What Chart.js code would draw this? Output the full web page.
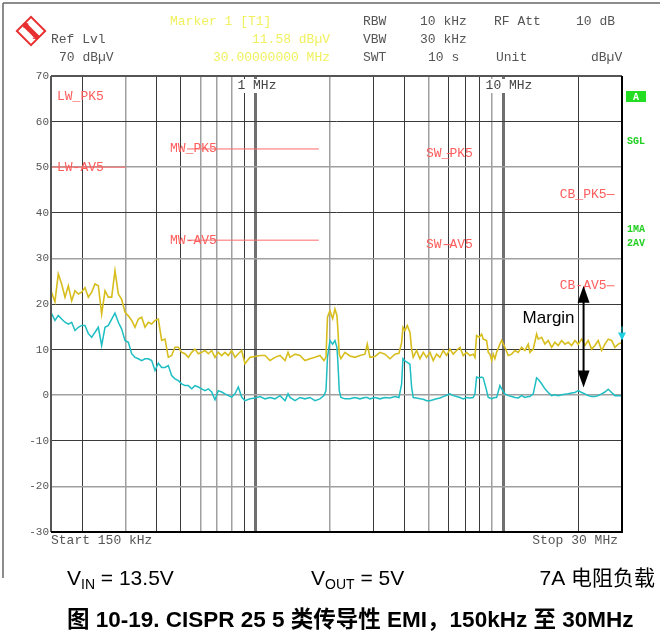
<!DOCTYPE html>
<html>
<head>
<meta charset="utf-8">
<script src="https://cdn.jsdelivr.net/npm/chart.js@4.4.1/dist/chart.umd.min.js"></script>
<style>
html, body { margin: 0; padding: 0; background: #fff; }
canvas { display: block; }
</style>
</head>
<body>
<canvas id="chart" width="660" height="640"></canvas>
<script>
// sweep frequencies, kHz
const freqKHz = [
    150, 155.6, 160.5, 165.6, 170.8, 176.2, 181.7, 187.4, 193.3, 199.4,
    205.6, 212.1, 218.8, 225.6, 232.7, 240.0, 247.6, 255.4, 263.4, 271.6,
    280.2, 289.0, 298.0, 307.4, 317.1, 327.0, 337.3, 347.9, 358.8, 370.1,
    381.7, 393.7, 406.1, 418.8, 432.0, 445.5, 459.5, 474.0, 488.9, 504.2,
    520.0, 536.4, 553.2, 570.6, 588.5, 607.0, 626.1, 645.7, 666.0, 686.9,
    708.5, 730.8, 753.7, 777.4, 801.8, 827.0, 853.0, 879.8, 907.4,
    951, 996, 1044, 1093, 1145, 1199, 1256, 1316, 1353, 1378,
    1444, 1511, 1583, 1658, 1737, 1819, 1888, 1924, 1951, 1996,
    2047, 2091, 2130, 2150, 2176, 2210, 2294, 2403, 2517, 2637,
    2762, 2822, 2893, 3031, 3175, 3325, 3483, 3649, 3787, 3881,
    3930, 4003, 4090, 4193, 4260, 4323, 4461, 4601, 4744, 4895,
    5048, 5205, 5371, 5539, 5711, 5893, 6078, 6267, 6465, 6669,
    6876, 7094, 7317, 7545, 7664, 7784, 7973, 8156, 8278, 8541,
    8672, 8809, 8949, 9083, 9227, 9371, 9665, 9819, 10124, 10439,
    10774, 11108, 11453, 11821, 12188, 12567, 12767, 13164, 13582, 13789,
    14231, 14673, 15129, 15614, 16100, 16601, 17132, 17665, 18214, 18798,
    19383, 19986, 20626, 21267, 21928, 22631, 23335, 24061, 24832, 25604,
    26400, 27246, 28094, 28968, 30000
];

// trace 1 : max peak (yellow)
const peakDbuv = [
    22.9, 20.5, 26.6, 24.4, 21.5, 24.0, 20.7, 22.9, 22.2, 22.6,
    23.6, 21.5, 22.6, 24.4, 24.0, 17.8, 22.9, 21.5, 21.5, 27.3,
    22.2, 21.0, 18.2, 17.4, 16.4, 14.9, 16.7, 17.1, 14.9, 16.0,
    15.6, 16.4, 16.7, 12.0, 12.3, 8.3, 8.7, 10.5, 10.5, 9.4,
    9.1, 8.3, 9.4, 10.1, 9.1, 9.4, 9.8, 9.1, 9.8, 8.3,
    9.4, 8.7, 9.4, 8.7, 9.8, 8.3, 9.1, 9.8, 6.9,
    8.3, 8.5, 8.7, 8.7, 7.6, 8.3, 8.7, 7.6, 9.4, 8.3,
    9.0, 8.7, 7.6, 8.0, 8.3, 8.7, 7.6, 8.3, 17.1, 18.5,
    16.8, 18.9, 17.5, 14.2, 9.0, 8.0, 9.4, 8.6, 8.3, 8.7,
    9.0, 11.2, 8.3, 8.5, 9.4, 9.0, 8.0, 9.0, 9.2, 11.5,
    14.9, 14.2, 15.3, 13.8, 10.1, 8.3, 9.8, 8.0, 9.4, 8.3,
    9.4, 7.6, 9.0, 8.3, 9.8, 8.7, 10.1, 9.0, 9.8, 10.5,
    8.7, 9.4, 8.7, 9.0, 8.3, 13.1, 12.7, 13.4, 12.3, 12.0,
    9.4, 9.0, 7.6, 9.0, 8.0, 9.4, 11.2, 12.0, 10.5, 8.7,
    9.0, 9.8, 9.4, 10.5, 9.8, 11.2, 9.4, 10.1, 13.4, 12.3,
    12.7, 11.2, 12.0, 10.5, 11.6, 10.9, 12.0, 11.2, 11.6, 10.9,
    12.0, 11.2, 12.3, 10.9, 12.0, 10.1, 10.9, 12.0, 9.8, 11.2,
    12.3, 12.0, 10.5, 11.2, 11.58
];

// trace 2 : average (cyan)
const avgDbuv = [
    18.2, 16.4, 17.5, 16.7, 16.0, 15.6, 16.0, 14.2, 14.9, 15.3,
    15.3, 13.5, 12.7, 13.8, 14.9, 10.9, 14.9, 15.3, 16.7, 18.0,
    16.0, 14.5, 12.0, 11.6, 9.1, 8.3, 8.0, 7.6, 8.0, 8.0,
    7.6, 5.4, 7.0, 6.1, 6.1, 6.5, 4.3, 3.6, 3.2, 2.5,
    2.1, 2.1, 1.4, 2.1, 1.8, 1.4, 1.0, 1.4, 0.7, -1.0,
    1.0, 0.7, 0.3, -0.1, -0.4, 0.3, 1.8, -0.4, -1.2,
    -0.8, -0.6, -0.3, -0.8, -0.5, -0.8, -0.1, -1.2, 0.3, -0.5,
    -1.2, -0.5, -0.8, -0.5, -1.2, -0.8, -0.1, 1.0, 8.3, 12.0,
    11.2, 12.0, 10.5, 7.0, 1.0, -0.5, -0.8, -0.8, -0.5, -0.8,
    -0.5, -0.5, -0.8, -0.5, -0.8, -0.5, -0.6, -0.3, -0.5, 2.4,
    8.0, 7.5, 7.2, 6.8, 1.7, -0.5, -0.6, -0.8, -0.9, -1.2,
    -1.2, -1.0, -0.8, -0.6, -0.3, 0.0, 0.3, -0.1, -0.3, -0.5,
    -0.8, -0.5, -0.6, -0.5, 0.3, 4.0, 3.8, 4.0, 3.8, 1.0,
    -0.5, -0.6, -0.8, -0.6, -0.5, -0.5, 2.1, 1.4, 0.3, -0.1,
    -0.3, -0.5, -0.6, -0.1, -0.5, -0.3, -0.3, 0.3, 3.8, 3.5,
    2.5, 1.4, 0.6, -0.1, 0.1, -0.1, 0.1, 0.2, 0.3, 0.5,
    0.6, 1.0, 0.6, 0.3, -0.1, -0.3, -0.3, -0.1, 0.3, 0.7,
    1.3, 0.6, -0.1, -0.1, -0.1
];

// CISPR 25 class 5 limit lines
const limitNames = ['LW_PK5', 'LW-AV5', 'MW_PK5', 'MW-AV5', 'SW_PK5', 'SW-AV5', 'CB_PK5', 'CB-AV5'];
const limitStart = [150, 150, 530, 530, 5900, 5900, 26000, 26000];
const limitStop = [300, 300, 1800, 1800, 6200, 6200, 28000, 28000];
const limitLevel = [70, 50, 54, 34, 53, 33, 44, 24];

// vertical grid (kHz) and the two marked decades
const gridFreqs = [200, 300, 400, 500, 600, 700, 800, 900, 1000,
    2000, 3000, 4000, 5000, 6000, 7000, 8000, 9000, 10000, 20000];
const decadeFreqs = [1000, 10000];
const decadeLabels = ['1 MHz', '10 MHz'];
const lightXGrid = [300, 600, 700, 800, 2000, 5000, 9000];
const lightYGrid = [50, 30, 0, -20];

// marker and margin annotation
const markerFreq = 30000;
const markerLevel = 11.58;
const marginFreq = 21000;
const marginTop = 24;
const marginBottom = 1.7;

const MONO = '"Liberation Mono", "DejaVu Sans Mono", monospace';
const SANS = '"Liberation Sans", Arial, "Noto Sans CJK SC", sans-serif';

function gridStyle(v, light) {
    if (decadeFreqs.includes(v)) return { color: '#707070', width: 3 };
    if (light.includes(v)) return { color: '#a0a0a0', width: 1.5 };
    return { color: '#3a3a3a', width: 1 };
}

const overlay = {
    id: 'overlay',
    afterDatasetsDraw(chart) {
        const { ctx, chartArea: a, scales: { x, y } } = chart;
        ctx.save();

        function seg(x1, y1, x2, y2) {
            ctx.beginPath(); ctx.moveTo(x1, y1); ctx.lineTo(x2, y2); ctx.stroke();
        }

        // outer frame
        ctx.strokeStyle = '#666'; ctx.lineWidth = 1.5;
        seg(3, 3, 660, 3);
        seg(3, 3, 3, 578);

        // plot frame
        ctx.strokeStyle = '#555'; ctx.lineWidth = 2;
        seg(a.left, a.top, a.right, a.top);
        seg(a.left, a.top, a.left, a.bottom);
        ctx.strokeStyle = '#000';
        seg(a.left, a.bottom, a.right + 1, a.bottom);
        seg(a.right, a.top, a.right, a.bottom);

        // y tick labels
        ctx.font = '11px ' + MONO;
        ctx.fillStyle = '#555';
        ctx.textAlign = 'right';
        ctx.textBaseline = 'middle';
        y.ticks.forEach(t => ctx.fillText(String(t.value), a.left - 2, y.getPixelForValue(t.value)));

        // decade labels
        ctx.font = '13px ' + MONO;
        ctx.textAlign = 'left';
        decadeFreqs.forEach((f, i) => {
            const px = x.getPixelForValue(f) - 18;
            const w = ctx.measureText(decadeLabels[i]).width;
            ctx.fillStyle = '#fff';
            ctx.fillRect(px - 1, a.top + 3, w + 2, 14);
            ctx.fillStyle = '#444';
            ctx.fillText(decadeLabels[i], px, a.top + 10);
        });

        // limit labels
        ctx.fillStyle = '#ff5c5c';
        limitNames.forEach((n, i) => {
            const x1 = x.getPixelForValue(limitStart[i]);
            const x2 = x.getPixelForValue(limitStop[i]);
            let py = y.getPixelForValue(limitLevel[i]);
            if (n.startsWith('LW')) {
                if (limitLevel[i] >= 70) py += 21;
                ctx.textAlign = 'left';
                ctx.fillText(n, a.left + 6, py);
            } else if (n.startsWith('MW')) {
                ctx.textAlign = 'left';
                ctx.fillText(n, x1 - 17, py);
            } else if (n.startsWith('SW')) {
                ctx.textAlign = 'center';
                ctx.fillText(n, (x1 + x2) / 2, py);
            } else {
                ctx.textAlign = 'right';
                ctx.fillText(n, x1, py);
            }
        });

        // header
        ctx.textAlign = 'left';
        ctx.fillStyle = '#f0f060';
        ctx.fillText('Marker 1 [T1]', 170, 22);
        ctx.textAlign = 'right';
        ctx.fillText(markerLevel.toFixed(2) + ' dB\u00b5V', 330, 40);
        ctx.fillText((markerFreq / 1000).toFixed(8) + ' MHz', 330, 58);
        ctx.textAlign = 'left';
        ctx.fillStyle = '#555';
        ctx.fillText('Ref Lvl', 51, 40);
        ctx.fillText('70 dB\u00b5V', 59, 58);
        [['RBW', 363, 22], ['10 kHz', 420, 22], ['RF Att', 494, 22], ['10 dB', 576, 22],
         ['VBW', 363, 40], ['30 kHz', 420, 40],
         ['SWT', 363, 58], ['10 s', 428, 58], ['Unit', 496, 58], ['dB\u00b5V', 591, 58]]
            .forEach(([s, px, py]) => ctx.fillText(s, px, py));

        // start / stop
        ctx.fillText('Start 150 kHz', 51, 541);
        ctx.textAlign = 'right';
        ctx.fillText('Stop 30 MHz', 618, 541);

        // R&S logo
        ctx.save();
        ctx.translate(31, 31);
        ctx.rotate(Math.PI / 4);
        ctx.strokeStyle = '#e83030'; ctx.lineWidth = 2;
        ctx.strokeRect(-10, -10, 20, 20);
        ctx.fillStyle = '#e83030';
        ctx.fillRect(-10, -2.5, 20, 5);
        ctx.restore();
        ctx.fillStyle = '#e83030';
        ctx.font = 'bold 8px ' + SANS;
        ctx.textAlign = 'center';
        ctx.fillText('R', 26, 26);
        ctx.fillText('S', 35, 37);

        // status labels on the right
        ctx.fillStyle = '#22dd22';
        ctx.fillRect(626, 91, 20, 11);
        ctx.font = 'bold 10px ' + MONO;
        ctx.fillStyle = '#fff';
        ctx.fillText('A', 636, 97);
        ctx.fillStyle = '#22d022';
        ctx.textAlign = 'left';
        ctx.fillText('SGL', 627, 141);
        ctx.fillText('1MA', 627, 229);
        ctx.fillText('2AV', 627, 243);

        // marker
        const mx = x.getPixelForValue(markerFreq);
        const my = y.getPixelForValue(markerLevel);
        ctx.fillStyle = '#20d0e0';
        ctx.beginPath();
        ctx.moveTo(mx, my - 2); ctx.lineTo(mx - 4, my - 10); ctx.lineTo(mx + 4, my - 10);
        ctx.closePath(); ctx.fill();
        ctx.strokeStyle = '#20d0e0'; ctx.lineWidth = 1;
        seg(mx, my - 10, mx, my - 16);

        // margin arrow
        const ax = x.getPixelForValue(marginFreq);
        const ay1 = y.getPixelForValue(marginTop);
        const ay2 = y.getPixelForValue(marginBottom);
        ctx.strokeStyle = '#000'; ctx.lineWidth = 2;
        seg(ax, ay1 + 10, ax, ay2 - 10);
        ctx.fillStyle = '#000';
        ctx.beginPath();
        ctx.moveTo(ax, ay1); ctx.lineTo(ax - 6, ay1 + 17); ctx.lineTo(ax + 6, ay1 + 17);
        ctx.closePath(); ctx.fill();
        ctx.beginPath();
        ctx.moveTo(ax, ay2); ctx.lineTo(ax - 6, ay2 - 17); ctx.lineTo(ax + 6, ay2 - 17);
        ctx.closePath(); ctx.fill();
        ctx.font = '17px ' + SANS;
        ctx.textAlign = 'right';
        ctx.fillText('Margin', ax - 9, 318);

        // captions under the plot
        ctx.fillStyle = '#000';
        ctx.textAlign = 'left';
        ctx.textBaseline = 'alphabetic';
        function subText(px, py, main, sub, rest) {
            ctx.font = '21px ' + SANS;
            ctx.fillText(main, px, py);
            px += ctx.measureText(main).width;
            ctx.font = '14px ' + SANS;
            ctx.fillText(sub, px, py + 4);
            px += ctx.measureText(sub).width;
            ctx.font = '21px ' + SANS;
            ctx.fillText(rest, px, py);
        }
        subText(67, 585, 'V', 'IN', ' = 13.5V');
        subText(311, 585, 'V', 'OUT', ' = 5V');
        ctx.font = '21px ' + SANS;
        ctx.textAlign = 'right';
        ctx.fillText('7A \u7535\u963b\u8d1f\u8f7d', 655, 585);
        ctx.textAlign = 'left';
        ctx.font = 'bold 22.5px ' + SANS;
        ctx.fillText('\u56fe 10-19. CISPR 25 5 \u7c7b\u4f20\u5bfc\u6027 EMI\uff0c150kHz \u81f3 30MHz', 67, 627);

        ctx.restore();
    }
};

const datasets = [
    {
        label: 'PK',
        data: freqKHz.map((f, i) => ({ x: f, y: peakDbuv[i] })),
        borderColor: 'rgb(215,190,30)',
        borderWidth: 1.6
    },
    {
        label: 'AV',
        data: freqKHz.map((f, i) => ({ x: f, y: avgDbuv[i] })),
        borderColor: 'rgb(30,190,195)',
        borderWidth: 1.5
    }
];
limitNames.forEach((n, i) => {
    datasets.push({
        label: n,
        data: [{ x: limitStart[i], y: limitLevel[i] }, { x: limitStop[i], y: limitLevel[i] }],
        borderColor: '#ff6a6a',
        borderWidth: 1
    });
});

new Chart(document.getElementById('chart'), {
    type: 'line',
    data: { datasets: datasets },
    options: {
        responsive: false,
        animation: false,
        devicePixelRatio: 1,
        layout: { padding: { left: 51, right: 38, top: 76, bottom: 108 } },
        elements: { point: { radius: 0 }, line: { tension: 0 } },
        plugins: { legend: { display: false }, tooltip: { enabled: false } },
        scales: {
            x: {
                type: 'logarithmic',
                min: 150,
                max: 30000,
                afterBuildTicks: s => { s.ticks = gridFreqs.map(v => ({ value: v })); },
                ticks: { display: false },
                border: { display: false },
                grid: {
                    drawTicks: false,
                    color: c => gridStyle(c.tick.value, lightXGrid).color,
                    lineWidth: c => gridStyle(c.tick.value, lightXGrid).width
                }
            },
            y: {
                min: -30,
                max: 70,
                ticks: { display: false, stepSize: 10 },
                border: { display: false },
                grid: {
                    drawTicks: false,
                    color: c => gridStyle(c.tick.value, lightYGrid).color,
                    lineWidth: c => gridStyle(c.tick.value, lightYGrid).width
                }
            }
        }
    },
    plugins: [overlay]
});
</script>
</body>
</html>
